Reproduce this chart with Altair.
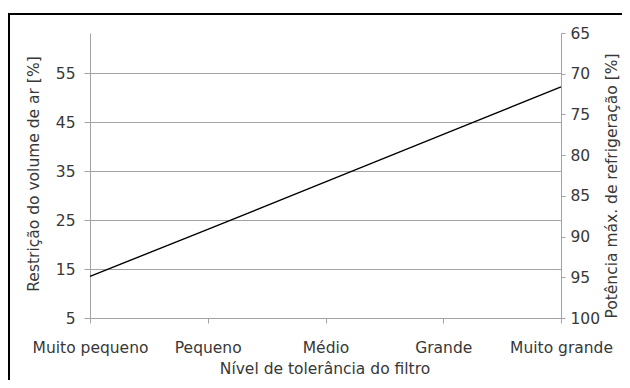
import altair as alt
import pandas as pd

categorias = ["Muito pequeno", "Pequeno", "Médio", "Grande", "Muito grande"]
restricao = [13.5, 23.1, 32.8, 42.5, 52.2]
potencia = [95.0, 89.2, 83.3, 77.5, 71.7]
ticks_esq = [5, 15, 25, 35, 45, 55]
ticks_dir = [65, 70, 75, 80, 85, 90, 95, 100]

df = pd.DataFrame({"cat": categorias, "restricao": restricao, "potencia": potencia})

FONT = "DejaVu Sans"
TXT = "#383838"
GRAY = "#a3a3a3"
FS = 15.5

W, H = 471, 285

x_enc = alt.X(
    "cat:N",
    sort=categorias,
    scale=alt.Scale(type="point", padding=0),
    axis=alt.Axis(
        title="Nível de tolerância do filtro",
        labelAngle=0,
        tickSize=5,
        labelPadding=17,
        titleX=W / 2 - 1,
        titleY=50,
        titleBaseline="middle",
        titleAlign="center",
        domain=True,
    ),
)

linha = alt.Chart(df).mark_line(color="black", strokeWidth=1.4).encode(
    x=x_enc,
    y=alt.Y(
        "restricao:Q",
        scale=alt.Scale(domain=[5, 63.2], nice=False, zero=False),
        axis=alt.Axis(
            title="Restrição do volume de ar [%]",
            values=ticks_esq,
            grid=True,
            tickSize=6,
            labelPadding=9,
            titleAngle=270,
            titleX=-57,
            titleY=H / 2 - 2,
            titleBaseline="middle",
            titleAlign="center",
        ),
    ),
)

direita = alt.Chart(df).mark_line(opacity=0).encode(
    x=x_enc,
    y=alt.Y(
        "potencia:Q",
        scale=alt.Scale(domain=[100, 65], nice=False, zero=False),
        axis=alt.Axis(
            orient="right",
            title="Potência máx. de refrigeração [%]",
            values=ticks_dir,
            grid=False,
            tickSize=4,
            labelPadding=5,
            titleAngle=270,
            titleX=50,
            titleY=H / 2 + 10,
            titleBaseline="middle",
            titleAlign="center",
        ),
    ),
)

moldura = alt.Chart(pd.DataFrame({"a": [0]})).mark_rect(
    fillOpacity=0, stroke="black", strokeWidth=2
).encode(
    x=alt.value(-81), x2=alt.value(W + 200), y=alt.value(-19), y2=alt.value(H + 200)
)

chart = (
    alt.layer(linha, direita, moldura)
    .resolve_scale(y="independent")
    .properties(
        width=W,
        height=H,
        autosize=alt.AutoSizeParams(type="none"),
        padding={"left": 82, "top": 25, "right": 61, "bottom": 62},
    )
    .configure_view(stroke=None)
    .configure_axis(
        labelFont=FONT,
        titleFont=FONT,
        labelFontSize=FS,
        titleFontSize=FS,
        labelColor=TXT,
        titleColor=TXT,
        titleFontWeight="normal",
        domainColor=GRAY,
        tickColor=GRAY,
        gridColor=GRAY,
        gridOpacity=1,
        domainWidth=1,
        tickWidth=1,
        gridWidth=1,
    )
)

chart.save("out.html", embed_options={"renderer": "svg", "actions": False})
